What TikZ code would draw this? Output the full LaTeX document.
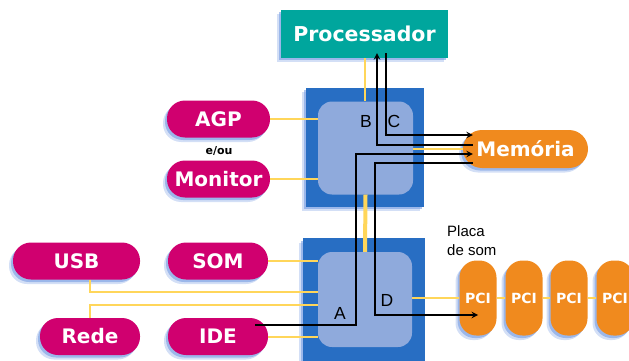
\documentclass[tikz,border=0pt]{standalone}
\usepackage{fontspec}
\setmainfont{DejaVu Sans}
\newfontfamily\labelfont{Liberation Sans}
\usetikzlibrary{shadows}
\definecolor{procteal}{RGB}{0,166,157}
\definecolor{chipblue}{RGB}{40,110,195}
\definecolor{chiplight}{RGB}{143,170,220}
\definecolor{partpink}{RGB}{208,0,111}
\definecolor{memorange}{RGB}{240,138,30}
\definecolor{busyellow}{RGB}{255,214,90}
\definecolor{glowblue}{RGB}{110,150,225}
\begin{document}
\begin{tikzpicture}[>=stealth, x=1pt, y=-1pt]
    \tikzset{
        glow/.style={drop shadow={shadow xshift=-4pt, shadow yshift=-4.5pt, fill=glowblue, opacity=0.3},
                     drop shadow={shadow xshift=-2pt, shadow yshift=-2.5pt, fill=glowblue, opacity=0.55}},
        pill/.style={glow, fill=partpink, text=white, rounded corners=18pt, minimum width=100pt, minimum height=37pt, inner sep=0pt, font=\bfseries\fontsize{20}{24}\selectfont},
        pci/.style={glow, fill=memorange, text=white, rounded corners=17pt, minimum width=37pt, minimum height=75pt, inner sep=0pt, font=\bfseries\fontsize{14}{16}\selectfont},
        chip/.style={glow, fill=chipblue, inner sep=0pt},
        core/.style={fill=chiplight, rounded corners=14pt, inner sep=0pt},
        bus/.style={draw=busyellow, line width=2pt},
        sig/.style={draw, line width=1.8pt},
        letter/.style={font=\labelfont\fontsize{17.5}{20}\selectfont, inner sep=0pt}
    }
    \useasboundingbox (0,0) rectangle (629,361);

    % chips
    \node[chip, minimum width=118pt, minimum height=119pt] (nb) at (365,147) {};
    \node[core, minimum width=95pt, minimum height=93pt] (nbin) at (365.5,148) {};
    \node[chip, minimum width=122pt, minimum height=124pt] (sb) at (364,300) {};
    \node[core, minimum width=94pt, minimum height=95pt] (sbin) at (365,299.5) {};

    \node[glow, fill=procteal, text=white, minimum width=167pt, minimum height=48pt, font=\bfseries\fontsize{20.5}{24}\selectfont] (proc) at (364.5,34) {Processador};
    \node[glow, fill=memorange, text=white, rounded corners=19pt, minimum width=125pt, minimum height=38pt, inner sep=0pt, font=\bfseries\fontsize{20}{24}\selectfont] (mem) at (525.5,149) {Memória};

    \node[pill, minimum width=103pt] (agp) at (218.5,119) {AGP};
    \node[font=\bfseries\fontsize{11}{13}\selectfont, inner sep=0pt] (eou) at (219,151) {e/ou};
    \node[pill, minimum width=103pt] (monitor) at (218.5,179) {Monitor};
    \node[pill, minimum width=127pt] (usb) at (76.5,261) {USB};
    \node[pill] (som) at (218,261) {SOM};
    \node[pill] (rede) at (90,336.5) {Rede};
    \node[pill] (ide) at (218,336.5) {IDE};

    \foreach \i/\x in {1/478,2/524,3/569,4/615}
        \node[pci] (pci\i) at (\x,298) {PCI};
    \node[font=\labelfont\fontsize{15}{19}\selectfont, align=left, anchor=west, inner sep=0pt] (placa) at (447,241) {Placa\\de som};

    % yellow buses
    \draw[bus] (proc.south) -- (proc.south |- nbin.north);
    \draw[bus] (agp.east) -- (agp.east -| nbin.west);
    \draw[bus] (monitor.east) -- (monitor.east -| nbin.west);
    \draw[bus] (nbin.east |- mem.west) -- (mem.west);
    \draw[bus, line width=4pt] (nbin.south) -- (sbin.north);
    \draw[bus] (som.east) -- (som.east -| sbin.west);
    \draw[bus] (ide.east) -- (ide.east -| sbin.west);
    \draw[bus] (usb.south -| rede.north) |- ([yshift=7.5pt]sbin.west);
    \draw[bus] (rede.north) |- ([yshift=-5.5pt]sbin.west);
    \draw[bus] (sbin.east |- pci1.west) -- (pci1.west);
    \foreach \a/\b in {1/2,2/3,3/4}
        \draw[bus] (pci\a.east) -- (pci\b.west);

    % data paths
    \draw[sig,->] ([xshift=10pt,yshift=4pt]mem.west) -| ([xshift=12.5pt,yshift=5pt]proc.south);
    \draw[sig,->] ([xshift=21.5pt,yshift=5pt]proc.south) |- ([xshift=10pt,yshift=14pt]mem.west);
    \draw[sig,->] ([xshift=-13pt,yshift=11.5pt]ide.east) -| ([xshift=-9.5pt,yshift=-6pt]nbin.center) -- ([xshift=10pt,yshift=-5pt]mem.west);
    \draw[sig,->] ([xshift=10pt,yshift=-14pt]mem.west) -| ([xshift=10pt,yshift=-15.5pt]sbin.center) -- ([yshift=-17pt]pci1.center);

    \node[letter] (lblB) at (366,121) {B};
    \node[letter] (lblC) at (394,121) {C};
    \node[letter] (lblA) at (340,313) {A};
    \node[letter] (lblD) at (387,300) {D};
\end{tikzpicture}
\end{document}
